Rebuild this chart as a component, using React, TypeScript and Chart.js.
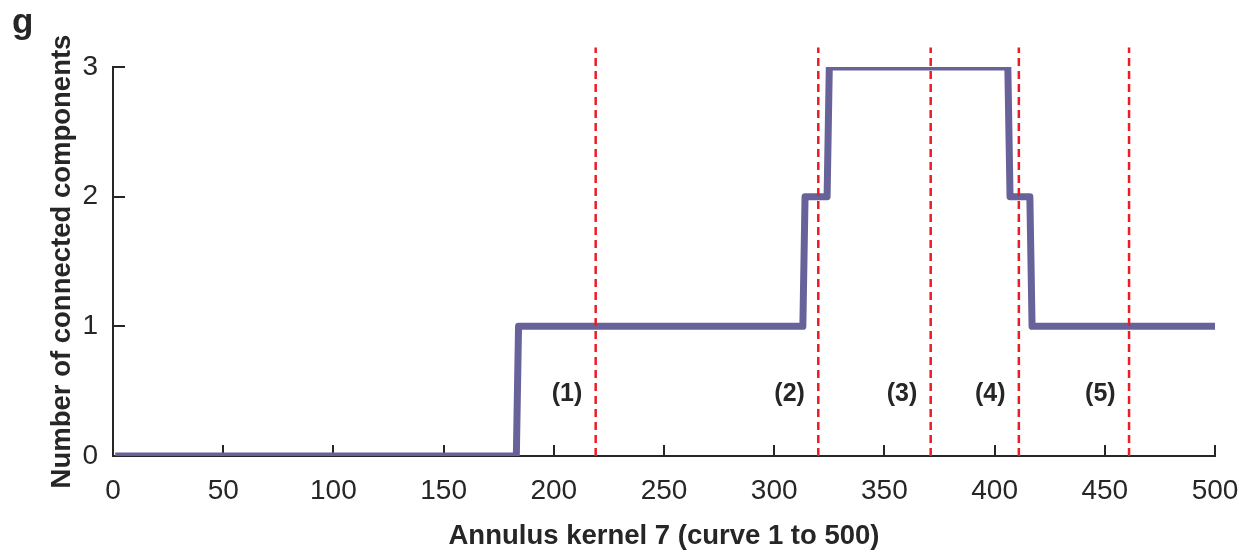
import React, { useEffect, useRef } from "react";
import { Chart, registerables } from "chart.js";

Chart.register(...registerables);

// Step curve: number of connected components vs. curve index
const curveIndex = [1, 183, 184, 313, 314, 324, 325, 406, 407, 416, 417, 500];
const componentCount = [0, 0, 1, 1, 2, 2, 3, 3, 2, 2, 1, 1];

// Red dashed region dividers
const dividerX = [219, 320, 371, 411, 461];
const dividerBottom = 0;
const dividerTop = 3.15;

// Region labels
const regionLabels = ["(1)", "(2)", "(3)", "(4)", "(5)"];
const regionLabelX = [206, 307, 358, 398, 448];
const regionLabelY = 0.48;

const xTicks = [0, 50, 100, 150, 200, 250, 300, 350, 400, 450, 500];
const yTicks = [0, 1, 2, 3];

const panelLetter = "g";
const xTitle = "Annulus kernel 7 (curve 1 to 500)";
const yTitle = "Number of connected components";

const FONT = '"Liberation Sans", Arial, Helvetica, sans-serif';
const TEXT = "#262626";

const overlayPlugin = {
  id: "overlay",
  beforeDatasetsDraw(chart: any) {
    const { ctx, scales } = chart;
    const x = scales.x;
    const y = scales.y;
    ctx.save();
    ctx.strokeStyle = TEXT;
    ctx.lineWidth = 2;
    ctx.beginPath();
    for (const t of xTicks) {
      const px = Math.round(x.getPixelForValue(t));
      ctx.moveTo(px, y.bottom);
      ctx.lineTo(px, y.bottom - 11);
    }
    for (const t of yTicks) {
      const py = Math.round(y.getPixelForValue(t));
      ctx.moveTo(x.left, py);
      ctx.lineTo(x.left + 12, py);
    }
    ctx.stroke();
    ctx.restore();
  },
  afterDatasetsDraw(chart: any) {
    const { ctx, scales } = chart;
    const x = scales.x;
    const y = scales.y;
    ctx.save();
    ctx.fillStyle = TEXT;
    ctx.font = `bold 25px ${FONT}`;
    ctx.textAlign = "center";
    ctx.textBaseline = "middle";
    regionLabels.forEach((lab, i) => {
      ctx.fillText(lab, x.getPixelForValue(regionLabelX[i]), y.getPixelForValue(regionLabelY));
    });
    ctx.font = `bold 35px ${FONT}`;
    ctx.textAlign = "left";
    ctx.textBaseline = "alphabetic";
    ctx.fillText(panelLetter, 12, 33);
    ctx.restore();
  },
};

export default function App() {
  const ref = useRef<HTMLCanvasElement | null>(null);

  useEffect(() => {
    if (!ref.current) return;
    const stepData = curveIndex.map((c, i) => ({ x: c, y: componentCount[i] }));
    const dividerSets = dividerX.map((dx) => ({
      label: "divider",
      data: [
        { x: dx, y: dividerBottom },
        { x: dx, y: dividerTop },
      ],
      borderColor: "#ED1C24",
      borderWidth: 2.5,
      borderDash: [8, 5],
      pointRadius: 0,
      fill: false,
      clip: false as any,
      order: 1,
    }));
    const chart = new Chart(ref.current, {
      type: "line",
      data: {
        datasets: [
          {
            label: "components",
            data: stepData,
            borderColor: "#67629A",
            borderWidth: 7,
            borderJoinStyle: "round",
            borderCapStyle: "butt",
            pointRadius: 0,
            fill: false,
            tension: 0,
            order: 2,
          },
          ...dividerSets,
        ] as any,
      },
      options: {
        animation: false,
        responsive: true,
        maintainAspectRatio: false,
        layout: { padding: { top: 67, right: 0, bottom: 0, left: 0 } },
        plugins: {
          legend: { display: false },
          tooltip: { enabled: false },
        },
        scales: {
          x: {
            type: "linear",
            min: 0,
            max: 500,
            afterBuildTicks: (s: any) => {
              s.ticks = xTicks.map((v) => ({ value: v }));
            },
            afterFit: (s: any) => {
              s.height = 97;
              s.paddingRight = 24;
            },
            grid: { display: false, drawTicks: false },
            border: { display: true, color: TEXT, width: 2 },
            ticks: {
              color: TEXT,
              padding: 18,
              maxRotation: 0,
              autoSkip: false,
              font: { family: FONT, size: 28 },
            },
            title: {
              display: true,
              text: xTitle,
              color: TEXT,
              padding: { top: 0, bottom: 0 },
              font: { family: FONT, size: 27.5, weight: "bold" },
            },
          },
          y: {
            type: "linear",
            min: 0,
            max: 3,
            afterBuildTicks: (s: any) => {
              s.ticks = yTicks.map((v) => ({ value: v }));
            },
            afterFit: (s: any) => {
              s.width = 113;
            },
            grid: { display: false, drawTicks: false },
            border: { display: true, color: TEXT, width: 2 },
            ticks: {
              color: TEXT,
              padding: 15,
              autoSkip: false,
              font: { family: FONT, size: 28 },
            },
            title: {
              display: true,
              text: yTitle,
              color: TEXT,
              padding: { top: 46, bottom: 0 },
              font: { family: FONT, size: 27.5, weight: "bold" },
            },
          },
        },
      } as any,
      plugins: [overlayPlugin],
    });
    return () => chart.destroy();
  }, []);

  return (
    <div style={{ position: "fixed", left: 0, top: 0, width: 1239, height: 553, background: "#fff" }}>
      <canvas ref={ref} />
    </div>
  );
}
